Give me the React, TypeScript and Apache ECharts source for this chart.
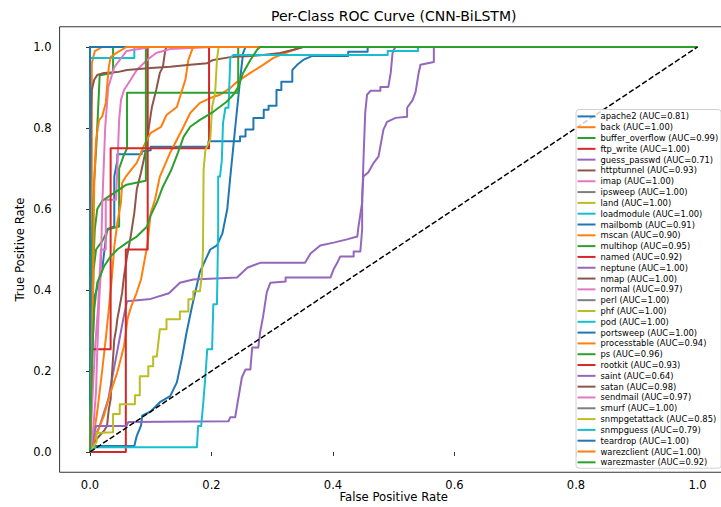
import React, { useEffect, useRef } from "react";
import * as echarts from "echarts";

const classNames = [
  "apache2", "back", "buffer_overflow", "ftp_write", "guess_passwd", "httptunnel",
  "imap", "ipsweep", "land", "loadmodule", "mailbomb", "mscan", "multihop", "named",
  "neptune", "nmap", "normal", "perl", "phf", "pod", "portsweep", "processtable", "ps",
  "rootkit", "saint", "satan", "sendmail", "smurf", "snmpgetattack", "snmpguess",
  "teardrop", "warezclient", "warezmaster",
];

const aucValues = [
  0.81, 1.0, 0.99, 1.0, 0.71, 0.93, 1.0, 1.0, 1.0, 1.0, 0.91, 0.9, 0.95, 0.92, 1.0, 1.0,
  0.97, 1.0, 1.0, 1.0, 1.0, 0.94, 0.96, 0.93, 0.64, 0.98, 0.97, 1.0, 0.85, 0.79, 1.0, 1.0, 0.92,
];

const tab10 = [
  "#1f77b4", "#ff7f0e", "#2ca02c", "#d62728", "#9467bd",
  "#8c564b", "#e377c2", "#7f7f7f", "#bcbd22", "#17becf",
];

const tickValues = [0, 0.2, 0.4, 0.6, 0.8, 1.0];

const perfect = [[0, 0], [0, 1], [1, 1]];

const apache2 = [[0,0],[0,0.015],[0.073,0.015],[0.077,0.04],[0.084,0.065],[0.086,0.09],[0.1,0.1],[0.115,0.123],[0.132,0.138],[0.143,0.172],[0.151,0.229],[0.159,0.295],[0.168,0.36],[0.181,0.445],[0.198,0.5],[0.209,0.51],[0.218,0.54],[0.226,0.6],[0.231,0.68],[0.239,0.8],[0.247,0.918],[0.252,0.985],[0.256,1],[1,1]];
const back = [[0,0],[0.003,0.3],[0.003,0.96],[0.008,0.99],[0.02,1],[1,1]];
const bufferOverflow = [[0,0],[0,0.35],[0.003,0.5],[0.007,0.67],[0.011,0.77],[0.016,0.93],[0.038,0.936],[0.038,1],[1,1]];
const guessPasswd = [[0,0],[0.005,0.03],[0.015,0.06],[0.03,0.13],[0.045,0.25],[0.055,0.33],[0.061,0.372],[0.1,0.378],[0.13,0.392],[0.148,0.418],[0.17,0.426],[0.242,0.431],[0.259,0.455],[0.28,0.467],[0.354,0.467],[0.363,0.49],[0.379,0.51],[0.401,0.517],[0.423,0.525],[0.44,0.532],[0.442,0.557],[0.448,0.616],[0.45,0.714],[0.453,0.837],[0.456,0.882],[0.462,0.892],[0.478,0.892],[0.478,0.901],[0.491,0.901],[0.495,0.936],[0.498,0.985],[0.5,0.993],[0.503,1],[1,1]];
const httptunnel = [[0,0],[0.005,0.02],[0.011,0.032],[0.023,0.052],[0.028,0.064],[0.031,0.106],[0.034,0.13],[0.036,0.187],[0.04,0.278],[0.043,0.303],[0.045,0.328],[0.048,0.352],[0.051,0.377],[0.053,0.394],[0.056,0.434],[0.061,0.483],[0.067,0.532],[0.073,0.591],[0.077,0.648],[0.084,0.69],[0.092,0.746],[0.097,0.803],[0.102,0.852],[0.109,0.894],[0.115,0.936],[0.12,0.951],[0.124,0.993],[0.126,1],[1,1]];
const loadmodule = [[0,0],[0,0.973],[0.073,0.973],[0.073,1],[1,1]];
const mailbomb = [[0,0],[0.003,0.2],[0.007,0.38],[0.02,0.45],[0.028,0.55],[0.04,0.557],[0.04,0.68],[0.045,0.72],[0.045,0.735],[0.085,0.735],[0.085,0.742],[0.1,0.745],[0.1,0.754],[0.195,0.754],[0.195,0.767],[0.247,0.767],[0.247,0.779],[0.256,0.779],[0.256,0.796],[0.269,0.796],[0.269,0.825],[0.286,0.825],[0.286,0.845],[0.294,0.845],[0.294,0.855],[0.307,0.855],[0.307,0.894],[0.315,0.894],[0.315,0.914],[0.333,0.914],[0.333,0.943],[0.341,0.956],[0.351,0.968],[0.366,0.978],[0.425,0.978],[0.425,0.988],[0.457,0.988],[0.457,1],[1,1]];
const mscan = [[0,0],[0.007,0.03],[0.023,0.09],[0.034,0.148],[0.045,0.197],[0.056,0.261],[0.062,0.33],[0.068,0.36],[0.076,0.39],[0.084,0.426],[0.094,0.507],[0.1,0.59],[0.107,0.623],[0.115,0.68],[0.132,0.739],[0.143,0.771],[0.154,0.803],[0.165,0.837],[0.181,0.862],[0.198,0.874],[0.214,0.882],[0.231,0.899],[0.242,0.914],[0.264,0.936],[0.285,0.956],[0.302,0.973],[0.33,0.99],[0.35,1],[1,1]];
const multihop = [[0,0],[0.003,0.25],[0.006,0.45],[0.01,0.5],[0.02,0.52],[0.03,0.55],[0.048,0.557],[0.048,0.7],[0.055,0.73],[0.061,0.75],[0.061,0.887],[0.244,0.887],[0.244,1],[1,1]];
const named = [[0,0],[0.018,0],[0.059,0],[0.059,0.5],[0.095,0.5],[0.095,1],[1,1]];
const normal = [[0,0],[0.003,0.1],[0.008,0.25],[0.013,0.35],[0.018,0.5],[0.026,0.5],[0.026,0.623],[0.043,0.623],[0.045,0.7],[0.048,0.82],[0.051,0.869],[0.056,0.894],[0.067,0.919],[0.077,0.943],[0.094,0.968],[0.109,0.985],[0.132,0.995],[0.2,1],[1,1]];
const processtable = [[0,0],[0.005,0.03],[0.012,0.1],[0.02,0.2],[0.026,0.28],[0.031,0.352],[0.036,0.43],[0.04,0.507],[0.045,0.566],[0.051,0.616],[0.053,0.665],[0.059,0.68],[0.068,0.697],[0.077,0.714],[0.09,0.76],[0.1,0.788],[0.117,0.803],[0.126,0.832],[0.143,0.852],[0.157,0.919],[0.162,0.968],[0.168,0.993],[0.17,1],[1,1]];
const ps = [[0,0],[0.002,0.3],[0.005,0.45],[0.008,0.55],[0.012,0.6],[0.02,0.62],[0.04,0.64],[0.06,0.66],[0.092,0.67],[0.092,1],[1,1]];
const rootkit = [[0,0],[0.002,0.254],[0.034,0.254],[0.034,0.75],[0.196,0.75],[0.196,1],[1,1]];
const saint = [[0,0],[0.01,0.064],[0.06,0.064],[0.063,0.074],[0.228,0.076],[0.231,0.086],[0.239,0.086],[0.242,0.113],[0.25,0.184],[0.256,0.204],[0.264,0.204],[0.267,0.258],[0.277,0.258],[0.28,0.295],[0.285,0.335],[0.291,0.394],[0.297,0.418],[0.322,0.421],[0.322,0.431],[0.396,0.431],[0.401,0.451],[0.407,0.467],[0.412,0.483],[0.434,0.483],[0.434,0.495],[0.445,0.495],[0.448,0.55],[0.448,0.63],[0.45,0.68],[0.458,0.69],[0.467,0.714],[0.475,0.73],[0.483,0.796],[0.489,0.815],[0.503,0.825],[0.522,0.828],[0.522,0.85],[0.531,0.869],[0.536,0.889],[0.541,0.936],[0.544,0.956],[0.566,0.963],[0.566,1],[1,1]];
const satan = [[0,0],[0,0.6],[0.002,0.85],[0.003,0.894],[0.007,0.919],[0.012,0.931],[0.023,0.936],[0.045,0.938],[0.061,0.943],[0.1,0.948],[0.132,0.951],[0.165,0.956],[0.193,0.96],[0.203,0.968],[0.231,0.975],[0.264,0.978],[0.285,0.98],[0.313,0.985],[0.335,0.993],[0.351,1],[1,1]];
const sendmail = [[0,0],[0.005,0.05],[0.01,0.15],[0.012,0.25],[0.015,0.37],[0.018,0.45],[0.02,0.6],[0.025,0.8],[0.03,0.9],[0.04,0.95],[0.06,0.99],[0.1,1],[1,1]];
const snmpgetattack = [[0,0],[0.011,0.025],[0.011,0.047],[0.038,0.049],[0.038,0.094],[0.049,0.094],[0.049,0.118],[0.074,0.118],[0.074,0.14],[0.082,0.14],[0.082,0.187],[0.096,0.187],[0.096,0.212],[0.104,0.212],[0.104,0.236],[0.11,0.236],[0.115,0.303],[0.126,0.303],[0.126,0.328],[0.148,0.328],[0.148,0.347],[0.162,0.347],[0.162,0.377],[0.17,0.377],[0.17,0.397],[0.181,0.397],[0.184,0.434],[0.186,0.5],[0.187,0.697],[0.19,0.746],[0.198,0.771],[0.201,0.852],[0.206,0.887],[0.209,0.968],[0.211,0.993],[0.212,1],[1,1]];
const snmpguess = [[0,0],[0.01,0.012],[0.176,0.012],[0.178,0.064],[0.183,0.064],[0.186,0.113],[0.19,0.187],[0.193,0.254],[0.201,0.254],[0.203,0.365],[0.209,0.365],[0.211,0.55],[0.211,0.68],[0.214,0.68],[0.217,0.72],[0.219,0.813],[0.223,0.85],[0.228,0.85],[0.231,0.973],[0.236,0.98],[0.49,0.98],[0.49,0.99],[0.54,0.99],[0.54,1],[1,1]];
const warezclient = [[0,0],[0.005,0.4],[0.007,0.67],[0.01,0.77],[0.015,0.82],[0.02,0.828],[0.026,0.862],[0.028,0.9],[0.031,0.951],[0.034,0.975],[0.043,0.985],[0.06,1],[1,1]];
const warezmaster = [[0,0],[0.002,0.15],[0.004,0.25],[0.007,0.352],[0.012,0.418],[0.023,0.458],[0.034,0.483],[0.045,0.5],[0.061,0.517],[0.077,0.532],[0.094,0.557],[0.099,0.581],[0.11,0.616],[0.12,0.655],[0.134,0.697],[0.145,0.74],[0.154,0.778],[0.165,0.803],[0.181,0.82],[0.203,0.84],[0.225,0.865],[0.236,0.882],[0.244,0.901],[0.252,0.936],[0.264,0.968],[0.275,0.993],[0.28,1],[1,1]];

const curves = [
  apache2, back, bufferOverflow, perfect, guessPasswd, httptunnel,
  perfect, perfect, perfect, loadmodule, mailbomb, mscan, multihop, named,
  perfect, perfect, normal, perfect, perfect, perfect, perfect, processtable, ps,
  rootkit, saint, satan, sendmail, perfect, snmpgetattack, snmpguess,
  perfect, warezclient, warezmaster,
];

const diagonal = [[0, 0], [1, 1]];

const FONT = "DejaVu Sans";

export default function App() {
  const ref = useRef<HTMLDivElement>(null);
  useEffect(() => {
    if (!ref.current) return;
    const chart = echarts.init(ref.current, null, { renderer: "svg" });
    const names = classNames.map((c, i) => `${c} (AUC=${aucValues[i].toFixed(2)})`);
    const series: any[] = names.map((n, i) => ({
      name: n,
      type: "line",
      data: curves[i],
      showSymbol: false,
      symbol: "none",
      smooth: false,
      color: tab10[i % 10],
      lineStyle: { width: 2, color: tab10[i % 10], join: "round" },
      emphasis: { disabled: true },
    }));
    series.push({
      name: "chance",
      type: "line",
      data: diagonal,
      symbol: "none",
      color: "#000",
      lineStyle: { width: 1.5, color: "#000", type: [5.5, 2.4] },
      emphasis: { disabled: true },
    });
    const axisCommon = {
      type: "value",
      min: -0.05,
      max: 1.05,
      splitLine: { show: false },
      axisLine: { show: false },
      axisTick: {
        show: true,
        customValues: tickValues,
        length: 4,
        lineStyle: { color: "#000", width: 0.8 },
      },
    };
    chart.setOption({
      animation: false,
      backgroundColor: "#fff",
      grid: {
        left: 59.6,
        top: 26.75,
        width: 668.3,
        height: 445.5,
        show: true,
        borderColor: "#000",
        borderWidth: 0.8,
        backgroundColor: "transparent",
        containLabel: false,
        outerBoundsMode: "none",
      },
      xAxis: {
        ...axisCommon,
        axisLabel: {
          customValues: tickValues,
          formatter: (v: number) => v.toFixed(1),
          fontSize: 11.5,
          fontFamily: FONT,
          color: "#000",
          margin: 7,
        },
      },
      yAxis: {
        ...axisCommon,
        axisLabel: {
          customValues: tickValues,
          formatter: (v: number) => v.toFixed(1),
          fontSize: 11.5,
          fontFamily: FONT,
          color: "#000",
          margin: 8,
        },
      },
      legend: {
        data: names,
        orient: "vertical",
        left: 576,
        top: 109.5,
        icon: "rect",
        itemWidth: 18,
        itemHeight: 2,
        itemGap: 0,
        padding: [1.5, 3, 0.5, 1.5],
        backgroundColor: "rgba(255,255,255,0.8)",
        borderColor: "#d0d0d0",
        borderWidth: 1,
        borderRadius: 3,
        selectedMode: false,
        textStyle: {
          fontSize: 8.4,
          fontFamily: FONT,
          color: "#000",
          lineHeight: 10.81,
        },
      },
      graphic: [
        {
          type: "text",
          x: 393.7,
          y: 16,
          style: {
            text: "Per-Class ROC Curve (CNN-BiLSTM)",
            fontSize: 14,
            fontFamily: FONT,
            fill: "#000",
            align: "center",
            verticalAlign: "middle",
          },
        },
        {
          type: "text",
          x: 393.7,
          y: 497,
          style: {
            text: "False Positive Rate",
            fontSize: 11.7,
            fontFamily: FONT,
            fill: "#000",
            align: "center",
            verticalAlign: "middle",
          },
        },
        {
          type: "text",
          x: 20,
          y: 249.5,
          rotation: Math.PI / 2,
          style: {
            text: "True Positive Rate",
            fontSize: 11.7,
            fontFamily: FONT,
            fill: "#000",
            align: "center",
            verticalAlign: "middle",
          },
        },
      ],
      series,
    });
    return () => chart.dispose();
  }, []);
  return (
    <div
      ref={ref}
      style={{ position: "absolute", left: 0, top: 0, width: 721, height: 507 }}
    />
  );
}
